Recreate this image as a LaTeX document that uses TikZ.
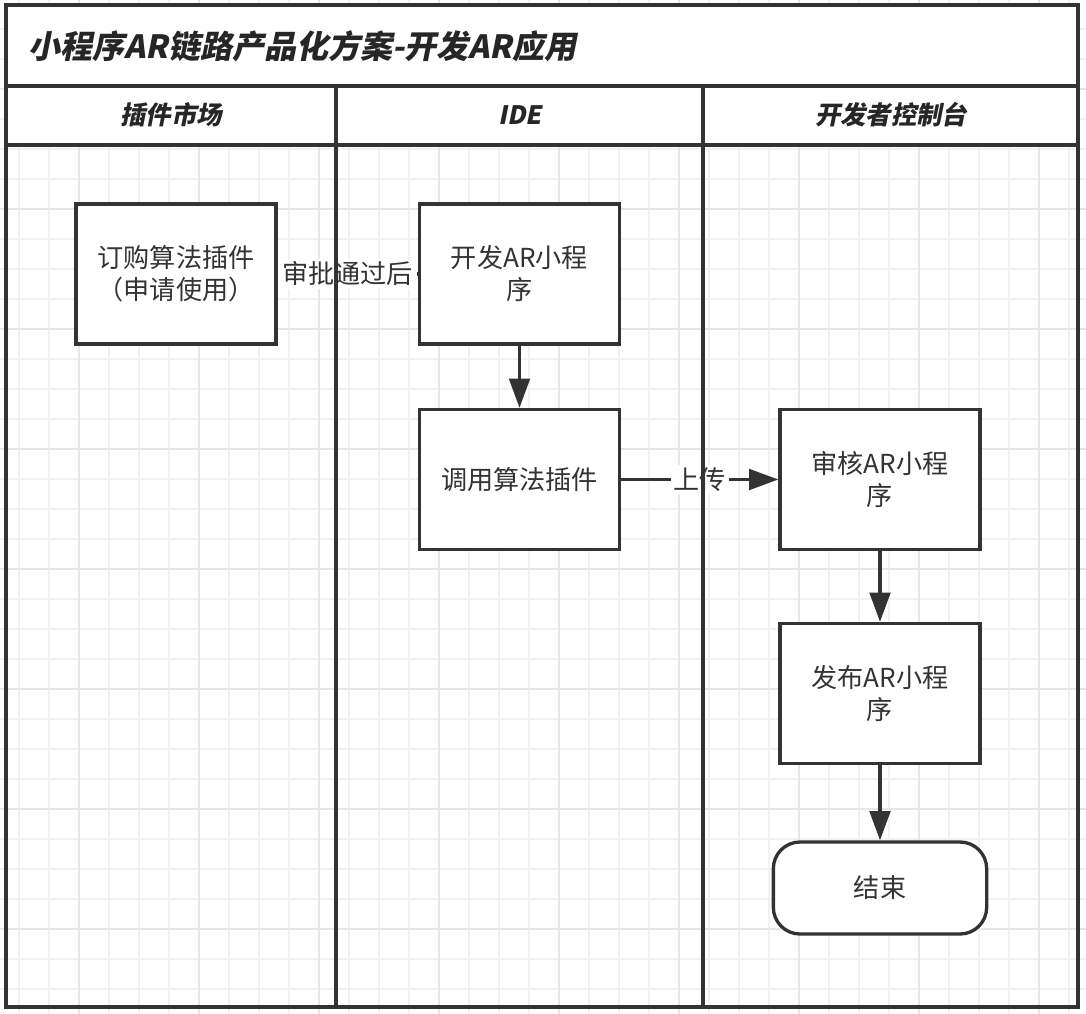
\documentclass[tikz,border=0pt]{standalone}
\usepackage{fontspec}
\usepackage{tikz}
\usetikzlibrary{arrows.meta}
\newfontfamily\cjk{Noto Sans CJK SC}
\newfontfamily\cjkslant{Noto Sans CJK SC}[FakeSlant=0.2]
\definecolor{linegray}{RGB}{51,51,51}
\definecolor{gridminor}{RGB}{241,241,244}
\definecolor{gridmajor}{RGB}{230,230,234}
\tikzset{
    % 流程框
    stepbox/.style={
        draw=linegray,
        line width=2.5pt,
        fill=white,
        minimum width=150pt,
        minimum height=105pt,
        align=center,
        text=linegray,
        font=\cjk\fontsize{19.6}{24}\selectfont
    },
    endbox/.style={
        stepbox,
        rounded corners=20pt,
        minimum width=160pt,
        minimum height=69pt
    },
    % 连接箭头
    flowarrow/.style={
        line width=2.4pt,
        linegray,
        -{Triangle[length=22pt, width=15.5pt]}
    },
    flowlabel/.style={
        fill=white,
        inner sep=2pt,
        text=linegray,
        font=\cjk\fontsize{19.6}{24}\selectfont
    },
    laneline/.style={
        line width=2.9pt,
        linegray
    },
    headtext/.style={
        text=black!85,
        font=\cjkslant\bfseries\fontsize{19}{24}\selectfont
    }
}

\begin{document}
\begin{tikzpicture}[x=0.75pt,y=-0.75pt]
\useasboundingbox (0,0) rectangle (1086,1014);

% ===================== 背景网格 =====================
\foreach \gx in {19,49,...,1079}
    \draw[gridminor,line width=1.1pt] (\gx,0) -- (\gx,1014);
\foreach \gy in {29,59,...,1009}
    \draw[gridminor,line width=1.1pt] (0,\gy) -- (1086,\gy);
\foreach \gx in {79,199,...,1079}
    \draw[gridmajor,line width=1.2pt] (\gx,0) -- (\gx,1014);
\foreach \gy in {89,209,...,1009}
    \draw[gridmajor,line width=1.2pt] (0,\gy) -- (1086,\gy);

% 标题栏和泳道头
\fill[white] (6,5) rectangle (1078,145);
\node[headtext,anchor=west,font=\cjkslant\bfseries\fontsize{24}{28}\selectfont] (title) at (24,46) {小程序AR链路产品化方案-开发AR应用};
\node[headtext] (laneA) at (171,115) {插件市场};
\node[headtext] (laneB) at (520,115) {IDE};
\node[headtext] (laneC) at (891,115) {开发者控制台};

% ===================== 流程节点 =====================
\node[stepbox] (order) at (176,274) {订购算法插件\\（申请使用）};
\node[stepbox] (dev) at (519.5,274) {开发AR小程\\序};
\node[stepbox] (call) at (519.5,479.5) {调用算法插件};
\node[stepbox] (review) at (880,479.5) {审核AR小程\\序};
\node[stepbox] (publish) at (880,693.5) {发布AR小程\\序};
\node[endbox] (finish) at (880,888) {结束};

% 连线
\draw[line width=2.4pt,linegray] (order) -- node[flowlabel,inner xsep=3pt] (approve) {审批通过后} (dev);
\draw[flowarrow] (dev) -- (call);
\draw[flowarrow] (call) -- node[flowlabel] (upload) {上传} (review);
\draw[flowarrow] (review) -- (publish);
\draw[flowarrow] (publish) -- (finish);

% ===================== 泳道边框 =====================
\draw[laneline] (6,5) rectangle (1078,1007);
\draw[laneline] (6,86) -- (1078,86);
\draw[laneline] (6,145) -- (1078,145);
\draw[laneline] (336,86) -- (336,1007);
\draw[laneline] (703,86) -- (703,1007);

\end{tikzpicture}
\end{document}
